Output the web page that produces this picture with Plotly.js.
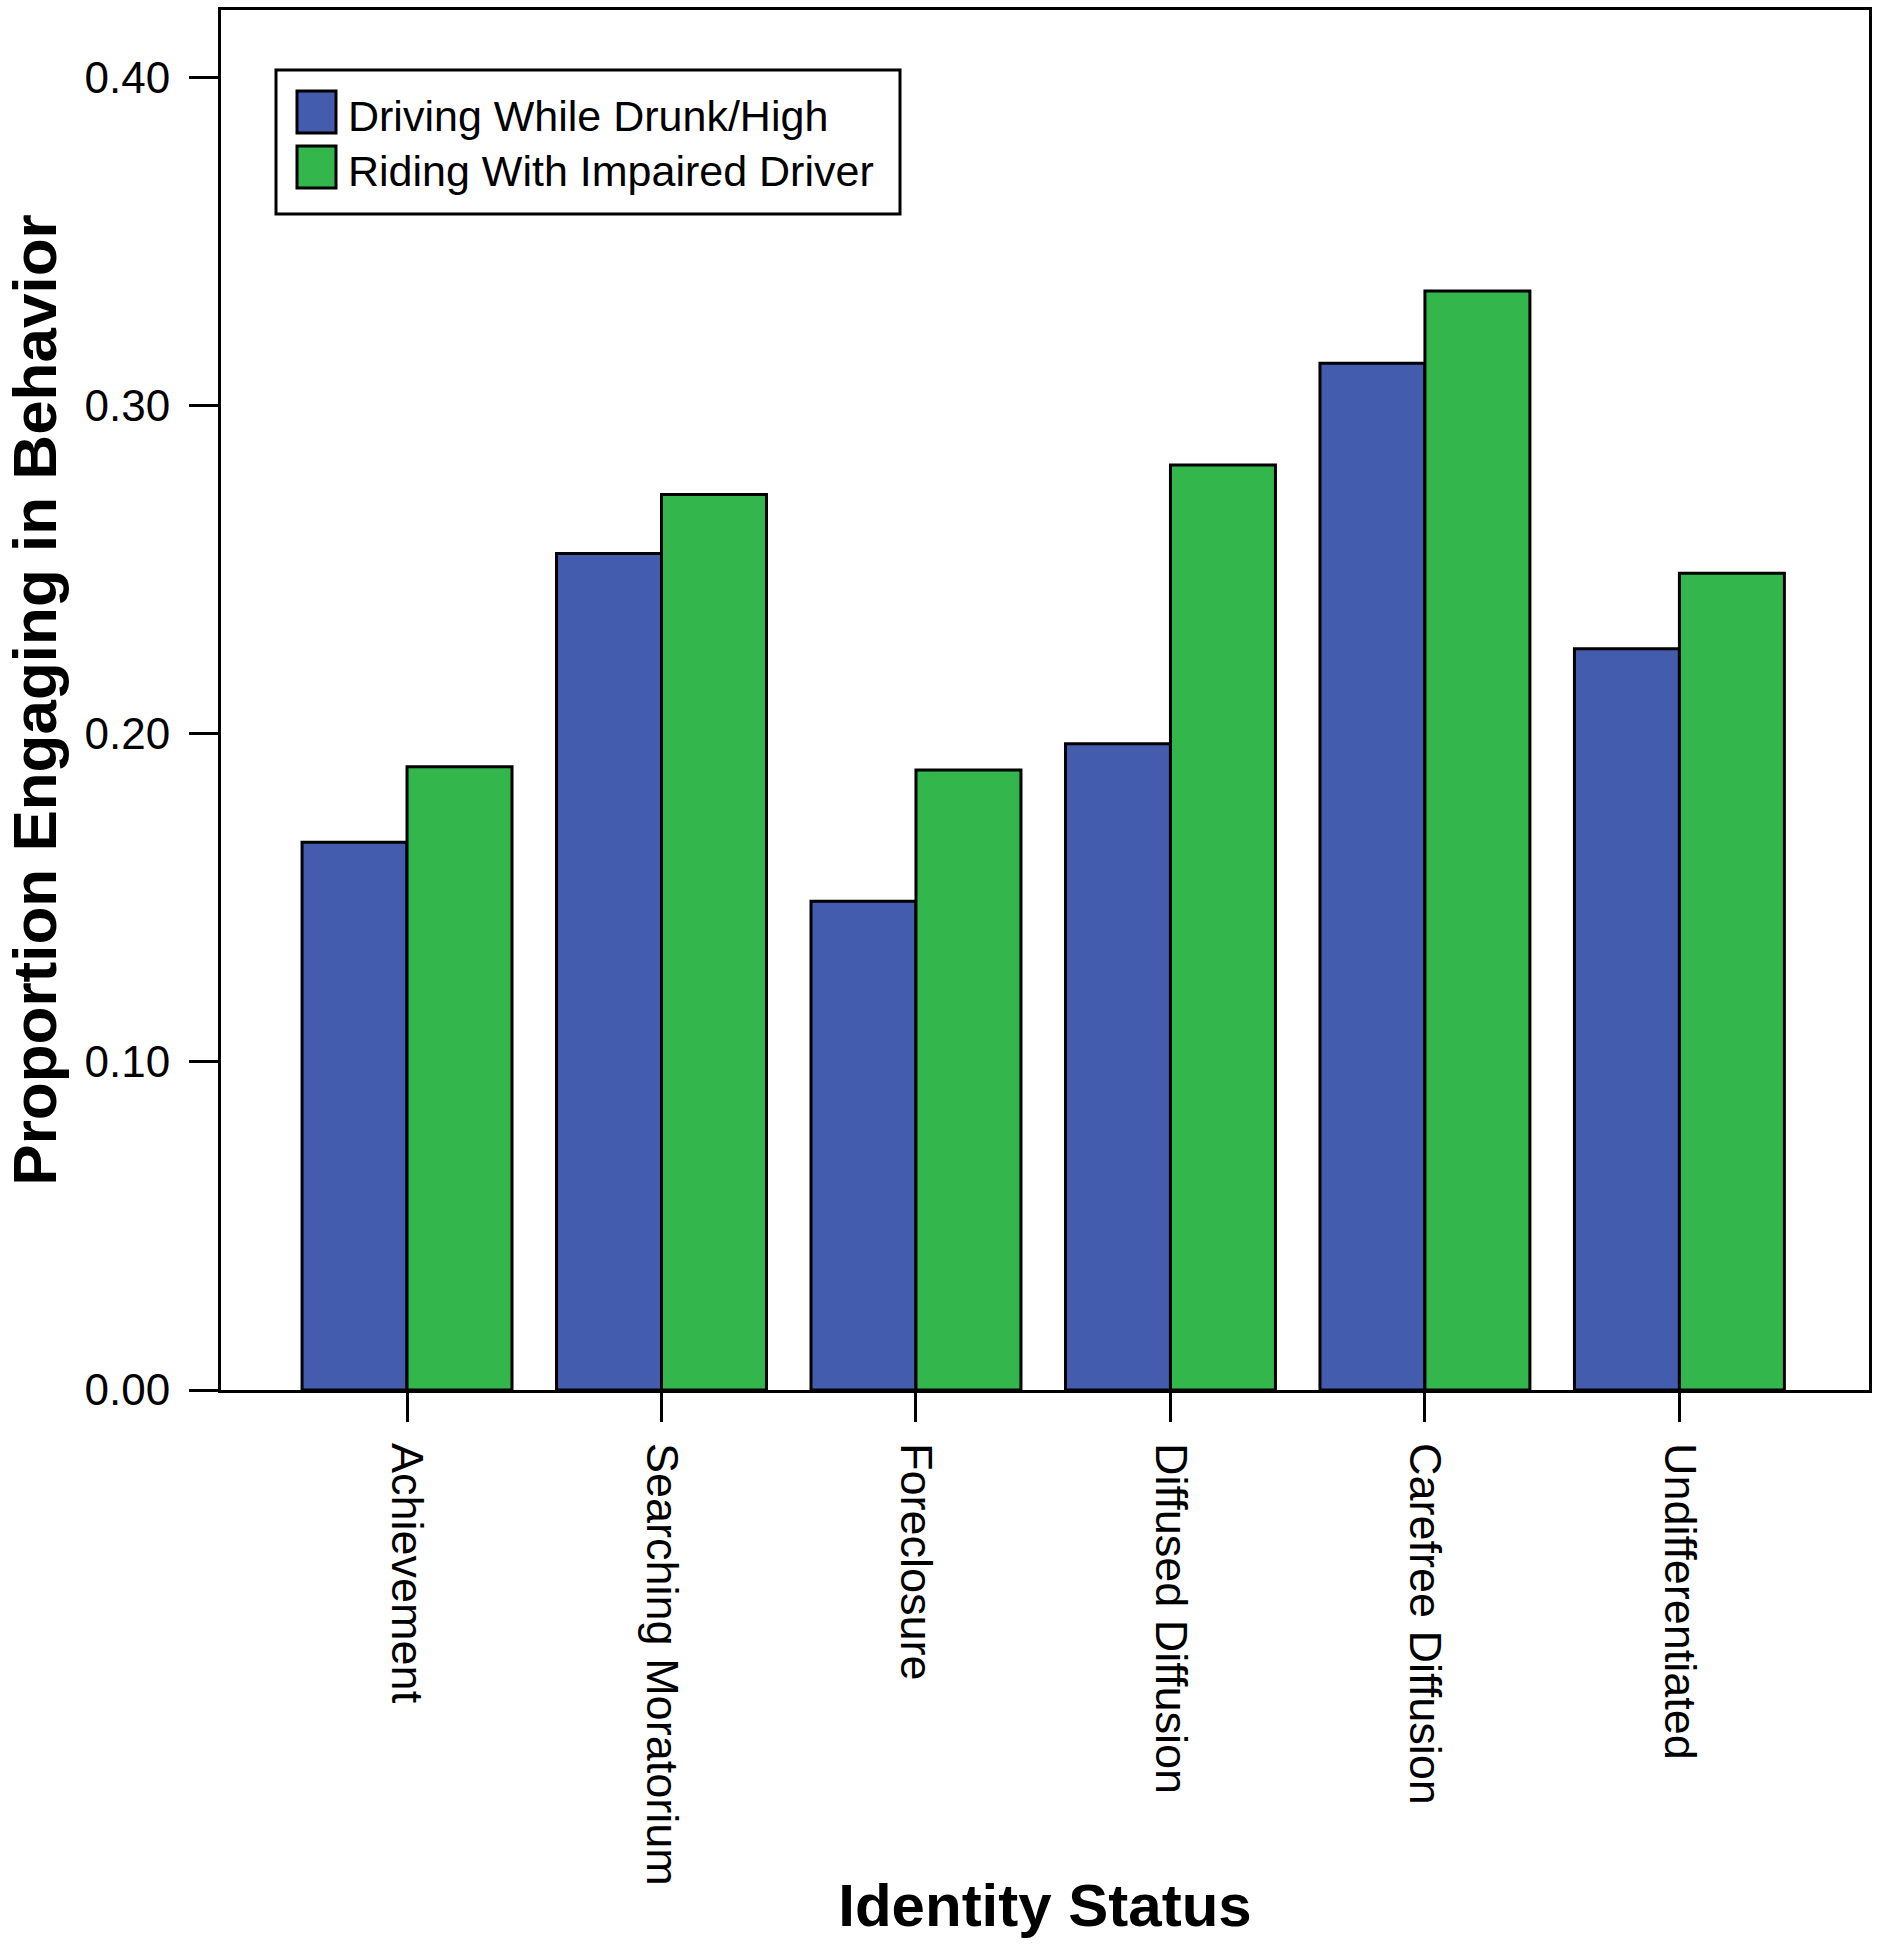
<!DOCTYPE html>
<html>
<head>
<meta charset="utf-8">
<script src="https://cdn.plot.ly/plotly-3.0.1.min.js"></script>
<style>html,body{margin:0;padding:0;background:#fff;}</style>
</head>
<body>
<div id="chart" style="width:1879px;height:1950px;"></div>
<script>
// ---- data ----
var categories = ["Achievement", "Searching Moratorium", "Foreclosure", "Diffused Diffusion", "Carefree Diffusion", "Undifferentiated"];
var seriesNames = ["Driving While Drunk/High", "Riding With Impaired Driver"];
var drivingValues = [0.167, 0.255, 0.149, 0.197, 0.313, 0.226];
var ridingValues  = [0.190, 0.273, 0.189, 0.282, 0.335, 0.249];
var yTickVals = [0.0, 0.1, 0.2, 0.3, 0.4];
var yTickText = ["0.00", "0.10", "0.20", "0.30", "0.40"];

// ---- styles ----
var colors = ["#435CAD", "#33B64C"];
var FONT = "Liberation Sans, Arial, Helvetica, sans-serif";

// plot area in pixels
var W = 1879, H = 1950;
var L = 221, R = 1869, T = 10, B = 1390;
function px(x) { return (x - L) / (R - L); }
function py(y) { return (B - y) / (B - T); }

var traces = [drivingValues, ridingValues].map(function (vals, i) {
  return {
    type: "bar",
    name: seriesNames[i],
    x: categories,
    y: vals,
    marker: { color: colors[i], line: { color: "#000", width: 3 } },
    showlegend: false,
    hoverinfo: "x+y+name"
  };
});

// manual legend (box, swatches, labels)
var shapes = [{
  type: "rect", xref: "paper", yref: "paper",
  x0: px(276), x1: px(900), y0: py(214), y1: py(70),
  line: { color: "#000", width: 3 }, fillcolor: "#fff"
}];
var annotations = [];
var rowY = [112, 167];
seriesNames.forEach(function (nm, i) {
  shapes.push({
    type: "rect", xref: "paper", yref: "paper",
    x0: px(297), x1: px(336), y0: py(rowY[i] + 21), y1: py(rowY[i] - 21),
    line: { color: "#000", width: 3 }, fillcolor: colors[i]
  });
  annotations.push({
    xref: "paper", yref: "paper", x: px(346), y: py(rowY[i] + 4),
    xanchor: "left", yanchor: "middle", showarrow: false,
    text: nm, font: { family: FONT, size: 43, color: "#000" }
  });
});

var layout = {
  width: W, height: H,
  margin: { l: L, r: W - R, t: T, b: H - B, pad: 0 },
  paper_bgcolor: "#fff", plot_bgcolor: "#fff",
  barmode: "group", bargap: 0.175, bargroupgap: 0,
  font: { family: FONT, color: "#000" },
  xaxis: {
    type: "category",
    range: [-0.731, 5.745],
    showline: true, linecolor: "#000", linewidth: 3, mirror: true,
    showgrid: false, zeroline: false,
    ticks: "outside", ticklen: 29, tickwidth: 3, tickcolor: "#000",
    tickangle: 90,
    tickfont: { family: FONT, size: 45, color: "#000" },
    ticklabelstandoff: 12,
    automargin: false,
    title: { text: "Identity Status", font: { family: FONT, size: 60, color: "#000", weight: "bold" }, standoff: 0 }
  },
  yaxis: {
    range: [0, 0.4207],
    showline: true, linecolor: "#000", linewidth: 3, mirror: true,
    showgrid: false, zeroline: false,
    ticks: "outside", ticklen: 29, tickwidth: 3, tickcolor: "#000",
    tickvals: yTickVals, ticktext: yTickText,
    tickfont: { family: FONT, size: 44, color: "#000" },
    ticklabelstandoff: 10,
    automargin: false,
    title: { text: "Proportion Engaging in Behavior", font: { family: FONT, size: 62, color: "#000", weight: "bold" }, standoff: 14 }
  },
  shapes: shapes,
  annotations: annotations
};

Plotly.newPlot("chart", traces, layout, { displayModeBar: false, staticPlot: true });
</script>
</body>
</html>
